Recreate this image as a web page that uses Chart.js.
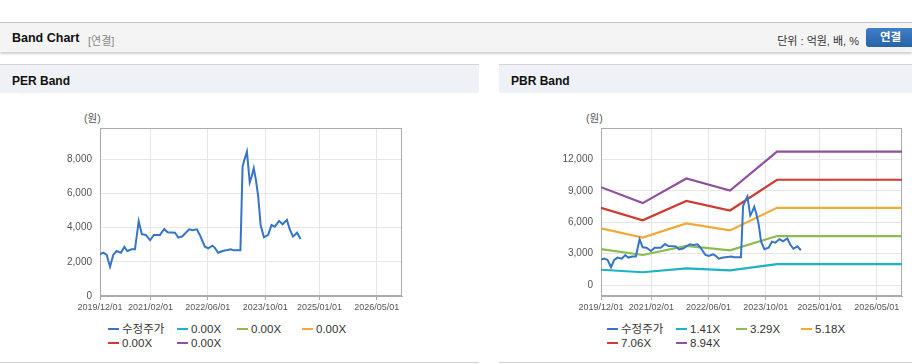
<!DOCTYPE html>
<html lang="ko">
<head>
<meta charset="utf-8">
<script src="https://cdn.jsdelivr.net/npm/chart.js@4.4.0/dist/chart.umd.min.js"></script>
<style>
  body { margin: 0; width: 912px; height: 364px; background: #fff; overflow: hidden; position: relative;
         font-family: "Liberation Sans", Arial, "Noto Sans CJK KR", sans-serif; color: #333; }
  .topbar { position: absolute; left: 0; top: 22px; width: 912px; height: 29px; background: #f4f4f4;
            border-top: 1px solid #c4c4c4; box-shadow: 0 2px 2px rgba(0,0,0,0.18); }
  .topbar .title { position: absolute; left: 12px; top: 8px; font-size: 12.5px; font-weight: bold; color: #111; }
  .topbar .sub { position: absolute; left: 88px; top: 9px; font-size: 11px; color: #888; }
  .topbar .unit { position: absolute; right: 53px; top: 9px; font-size: 11px; color: #333; }
  .topbar .btn { position: absolute; left: 866px; top: 5px; width: 52px; height: 19px; border-radius: 3px;
                 background: linear-gradient(#3d7fc6, #2863a8); color: #fff; font-size: 11.5px; font-weight: bold;
                 line-height: 19px; padding-left: 14px; box-sizing: border-box; }
  .panel { position: absolute; top: 64px; height: 298px; background: #fff; border-bottom: 1px solid #cfcfcf; }
  .panel .head { position: absolute; left: 0; top: 0; right: 0; height: 28px; background: #eef2f7;
                 border-top: 1px solid #d4d4d4; }
  .panel .head span { position: absolute; left: 12px; top: 9px; font-size: 12px; font-weight: bold; color: #111; }
  .unitlabel { position: absolute; top: 110px; font-size: 10.5px; color: #555; }
  canvas { position: absolute; }
  .leg { position: absolute; font-size: 11.5px; color: #333; white-space: nowrap; height: 13px; line-height: 13px; }
  .leg i { display: inline-block; width: 11px; height: 2.5px; margin-right: 3px; vertical-align: middle; position: relative; top: -1px; }
</style>
</head>
<body>
<div class="topbar">
  <span class="title">Band Chart</span><span class="sub">[연결]</span>
  <span class="unit">단위 : 억원, 배, %</span>
  <span class="btn">연결</span>
</div>
<div class="panel" style="left:0;width:479px"><div class="head"><span>PER Band</span></div></div>
<div class="panel" style="left:499px;width:413px"><div class="head"><span>PBR Band</span></div></div>
<div class="unitlabel" style="left:84px">(원)</div>
<div class="unitlabel" style="left:586px">(원)</div>
<canvas id="perChart" width="370" height="200" style="left:40px;top:120px"></canvas>
<canvas id="pbrChart" width="370" height="200" style="left:540px;top:120px"></canvas>
<div id="perLegend"></div>
<div id="pbrLegend"></div>
<script>
// 수정주가 (원)
const priceDates = ['2019-12-01','2019-12-29','2020-01-27','2020-02-24','2020-03-22','2020-04-20','2020-05-26',
  '2020-06-24','2020-07-19','2020-08-25','2020-09-22','2020-10-24','2020-11-19','2020-12-22','2021-01-28',
  '2021-03-01','2021-04-22','2021-05-28','2021-06-25','2021-08-27','2021-09-24','2021-10-28','2021-12-25',
  '2022-01-22','2022-02-28','2022-03-25','2022-05-07','2022-06-04','2022-07-10','2022-07-29','2022-08-28',
  '2022-10-04','2022-12-13','2023-01-04','2023-03-04','2023-03-10','2023-03-22','2023-04-04','2023-04-28',
  '2023-05-22','2023-06-07','2023-06-25','2023-07-13','2023-08-01','2023-08-22','2023-09-19','2023-10-25',
  '2023-11-22','2023-12-20','2024-01-25','2024-02-24','2024-04-01','2024-04-24','2024-05-22','2024-06-25',
  '2024-07-25'];
const priceValues = [2440,2530,2400,1710,2400,2630,2530,2870,2630,2730,2730,4370,3610,3570,3260,
  3570,3570,3920,3730,3700,3410,3490,3900,3840,3900,3570,2880,2790,2940,2830,2530,
  2630,2730,2670,2670,4250,7560,7900,8440,6630,6980,7470,6790,5850,4150,3430,3570,
  4150,4050,4390,4190,4450,3900,3470,3700,3330];

// PBR 밴드
const bandDates = ['2019-12-01','2020-11-19','2021-11-25','2022-12-01','2024-01-04','2026-12-01'];
const pbr141 = [1473,1234,1605,1421,2006,2006];
const pbr329 = [3438,2879,3744,3316,4682,4682];
const pbr518 = [5413,4533,5895,5221,7371,7371];
const pbr706 = [7378,6178,8034,7116,10046,10046];
const pbr894 = [9342,7823,10174,9012,12722,12722];

const perLabels = ['수정주가','0.00X','0.00X','0.00X','0.00X','0.00X'];
const pbrLabels = ['수정주가','1.41X','3.29X','5.18X','7.06X','8.94X'];
const colors = ['#3574c9','#1db2c6','#8cbb4f','#f2a935','#d13a2f','#904f9f'];

const xTickDates = ['2019-12-01','2021-02-01','2022-06-01','2023-10-01','2025-01-01','2026-05-01'];
const xMin = '2019-12-01', xMax = '2026-12-01';
const perYTicks = [0,2000,4000,6000,8000];
const pbrYTicks = [0,3000,6000,9000,12000];

const t = s => Date.UTC(+s.slice(0,4), +s.slice(5,7) - 1, +s.slice(8,10));
const pad = n => String(n).padStart(2, '0');
const fmtDate = v => { const d = new Date(v); return d.getUTCFullYear() + '/' + pad(d.getUTCMonth() + 1) + '/' + pad(d.getUTCDate()); };
const pts = (dates, vals) => dates.map((d, i) => ({ x: t(d), y: vals[i] }));

const tickFont = { family: '"Liberation Sans", Arial', size: 9 };

// 차트 영역 테두리
const frame = {
  id: 'frame',
  beforeDatasetsDraw(chart) {
    const a = chart.chartArea, ctx = chart.ctx;
    ctx.save();
    ctx.strokeStyle = '#ababab';
    ctx.lineWidth = 1;
    ctx.strokeRect(Math.round(a.left) + 0.5, Math.round(a.top) + 0.5, Math.round(a.right - a.left) - 1, Math.round(a.bottom - a.top) - 1);
    ctx.restore();
  }
};

function makeChart(id, datasets, yMin, yMax, yTicks) {
  return new Chart(document.getElementById(id), {
    type: 'line',
    data: { datasets },
    options: {
      responsive: false,
      animation: false,
      layout: { padding: { top: 8, right: 8, left: 0, bottom: 0 } },
      plugins: { legend: { display: false }, tooltip: { enabled: false } },
      elements: { point: { radius: 0 }, line: { tension: 0 } },
      scales: {
        x: {
          type: 'linear',
          min: t(xMin), max: t(xMax),
          afterBuildTicks: s => { s.ticks = xTickDates.map(d => ({ value: t(d) })); },
          afterFit: s => { s.height = 24; s.paddingLeft = 0; s.paddingRight = 0; },
          grid: { color: '#e6e6e6', tickLength: 4, tickColor: '#ababab' },
          border: { color: '#ababab' },
          ticks: { callback: v => fmtDate(v), maxRotation: 0, autoSkip: false, color: '#555', font: tickFont, padding: 2 }
        },
        y: {
          min: yMin, max: yMax,
          afterBuildTicks: s => { s.ticks = yTicks.map(v => ({ value: v })); },
          afterFit: s => { s.width = id === 'perChart' ? 60 : 61; s.paddingTop = 0; s.paddingBottom = 0; },
          grid: { color: '#e6e6e6', drawTicks: false },
          border: { color: '#ababab' },
          ticks: { callback: v => v.toLocaleString('en-US'), color: '#555', font: { family: tickFont.family, size: 10 }, padding: 8 }
        }
      }
    },
    plugins: [frame]
  });
}

// PER Band: 밴드 값이 없음 (0.00X)
makeChart('perChart', [
  { label: perLabels[0], data: pts(priceDates, priceValues), borderColor: colors[0], borderWidth: 2 },
  ...perLabels.slice(1).map((l, i) => ({ label: l, data: [], borderColor: colors[i + 1], borderWidth: 2 }))
], 0, 9820, perYTicks);

makeChart('pbrChart', [
  { label: pbrLabels[0], data: pts(priceDates, priceValues), borderColor: colors[0], borderWidth: 2 },
  { label: pbrLabels[1], data: pts(bandDates, pbr141), borderColor: colors[1], borderWidth: 2.2 },
  { label: pbrLabels[2], data: pts(bandDates, pbr329), borderColor: colors[2], borderWidth: 2.2 },
  { label: pbrLabels[3], data: pts(bandDates, pbr518), borderColor: colors[3], borderWidth: 2.2 },
  { label: pbrLabels[4], data: pts(bandDates, pbr706), borderColor: colors[4], borderWidth: 2.2 },
  { label: pbrLabels[5], data: pts(bandDates, pbr894), borderColor: colors[5], borderWidth: 2.2 }
], -1030, 14980, pbrYTicks);

// 범례
function legend(elId, labels, x0) {
  const cols = [0, 69, 129, 194];
  const el = document.getElementById(elId);
  labels.forEach((l, i) => {
    const d = document.createElement('div');
    d.className = 'leg';
    d.style.left = (x0 + cols[i % 4]) + 'px';
    d.style.top = (i < 4 ? 323 : 337) + 'px';
    d.innerHTML = '<i style="background:' + colors[i] + '"></i>' + l;
    el.appendChild(d);
  });
}
legend('perLegend', perLabels, 108);
legend('pbrLegend', pbrLabels, 607);
</script>
</body>
</html>
